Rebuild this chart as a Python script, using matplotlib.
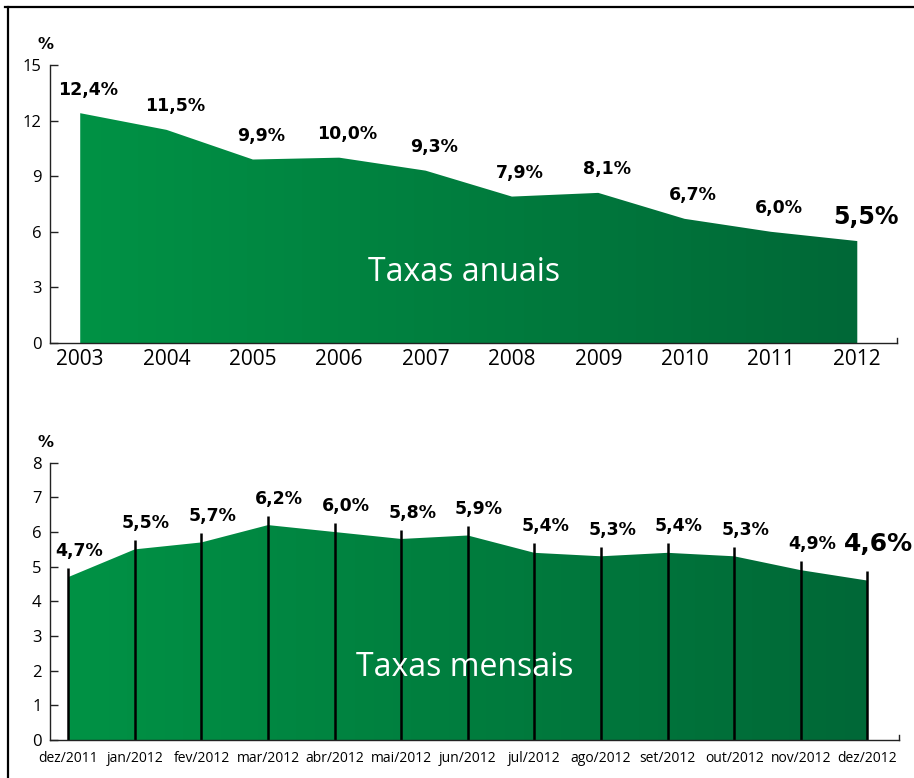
import numpy as np
import matplotlib
matplotlib.use('Agg')
import matplotlib.pyplot as plt
from matplotlib.colors import LinearSegmentedColormap
from matplotlib.lines import Line2D

# dados
anos = [2003, 2004, 2005, 2006, 2007, 2008, 2009, 2010, 2011, 2012]
taxas_anuais = [12.4, 11.5, 9.9, 10.0, 9.3, 7.9, 8.1, 6.7, 6.0, 5.5]
anual_yticks = [0, 3, 6, 9, 12, 15]

meses = ['dez/2011', 'jan/2012', 'fev/2012', 'mar/2012', 'abr/2012', 'mai/2012', 'jun/2012',
         'jul/2012', 'ago/2012', 'set/2012', 'out/2012', 'nov/2012', 'dez/2012']
taxas_mensais = [4.7, 5.5, 5.7, 6.2, 6.0, 5.8, 5.9, 5.4, 5.3, 5.4, 5.3, 4.9, 4.6]
mensal_yticks = [0, 1, 2, 3, 4, 5, 6, 7, 8]

VERDE = LinearSegmentedColormap.from_list('verde', ['#009245', '#006837'])
TICK_FONT = ['Open Sans', 'DejaVu Sans']
LABEL_FONT = ['DejaVu Sans']

W, H = 914, 778
fig = plt.figure(figsize=(W / 100, H / 100), dpi=100)


def px_axes(l, t, r, b):
    return fig.add_axes([l / W, 1 - b / H, (r - l) / W, (b - t) / H])


def gradient_fill(ax, x, y):
    poly = ax.fill_between(x, 0, y, color='none', lw=0)
    grad = np.linspace(0, 1, 256).reshape(1, -1)
    im = ax.imshow(grad, cmap=VERDE, aspect='auto', origin='lower',
                   extent=[x[0], x[-1], 0, max(y)], zorder=1)
    im.set_clip_path(poly.get_paths()[0], transform=ax.transData)
    ax.set_aspect('auto')


def style_axes(ax, ymax, yticks):
    for s in ['top', 'right']:
        ax.spines[s].set_visible(False)
    for s in ['left', 'bottom']:
        ax.spines[s].set_color('#222222')
        ax.spines[s].set_linewidth(1.0)
    ax.set_ylim(0, ymax)
    ax.set_yticks(yticks)
    ax.tick_params(axis='y', direction='in', length=6, width=1, pad=6,
                   labelsize=12, color='#222222')
    ax.tick_params(axis='x', length=0)
    for t in ax.get_yticklabels():
        t.set_family(TICK_FONT)
    ax.axvline(ax.get_xlim()[1], ymin=0, ymax=0.018, color='#222222', lw=1, clip_on=False)
    ax.text(-0.005, 1.045, '%', transform=ax.transAxes, ha='center', va='bottom',
            fontsize=11.5, fontweight='bold', family=LABEL_FONT)


def fmt(v):
    return f'{v:.1f}'.replace('.', ',') + '%'


# grafico anual
ax1 = px_axes(50, 65, 897, 343)
ax1.set_xlim(anos[0] - 0.35, anos[-1] + 0.46)
gradient_fill(ax1, np.array(anos, float), np.array(taxas_anuais))
style_axes(ax1, 15, anual_yticks)
ax1.set_xticks(anos)
ax1.set_xticklabels([str(a) for a in anos], fontsize=15, family=TICK_FONT)
ax1.tick_params(axis='x', pad=4)
for i, (a, v) in enumerate(zip(anos, taxas_anuais)):
    last = i == len(anos) - 1
    ax1.annotate(fmt(v), (a, v), xytext=(6, 17),
                 textcoords='offset points', ha='center', va='center',
                 fontsize=17 if last else 12.5, fontweight='bold', family=LABEL_FONT,
                 annotation_clip=False)
ax1.text(0.489, 0.252, 'Taxas anuais', transform=ax1.transAxes, ha='center', va='center',
         color='white', fontsize=23, family=TICK_FONT, zorder=3)

# grafico mensal
xm = np.arange(len(meses))
ax2 = px_axes(50, 462.7, 899, 740)
ax2.set_xlim(-0.275, len(meses) - 1 + 0.476)
gradient_fill(ax2, xm.astype(float), np.array(taxas_mensais))
style_axes(ax2, 8, mensal_yticks)
ax2.vlines(xm, 0, np.array(taxas_mensais) + 0.27, color='black', lw=1.8, zorder=2)
ax2.set_xticks(xm)
ax2.set_xticklabels(meses, fontsize=10, family=TICK_FONT)
ax2.tick_params(axis='x', pad=8)
for i, v in enumerate(taxas_mensais):
    last = i == len(meses) - 1
    ax2.annotate(fmt(v), (i, v), xytext=(8, 19 if not last else 26),
                 textcoords='offset points', ha='center', va='center',
                 fontsize=18 if last else 12.5, fontweight='bold', family=LABEL_FONT,
                 annotation_clip=False)
ax2.text(0.489, 0.26, 'Taxas mensais', transform=ax2.transAxes, ha='center', va='center',
         color='white', fontsize=23, family=TICK_FONT, zorder=3)

# moldura
fig.add_artist(Line2D([8 / W, 8 / W], [0, 1 - 7 / H], color='black', lw=1.6))
fig.add_artist(Line2D([5 / W, 1], [1 - 7 / H, 1 - 7 / H], color='black', lw=1.6))

fig.savefig('out.png', dpi=100)
